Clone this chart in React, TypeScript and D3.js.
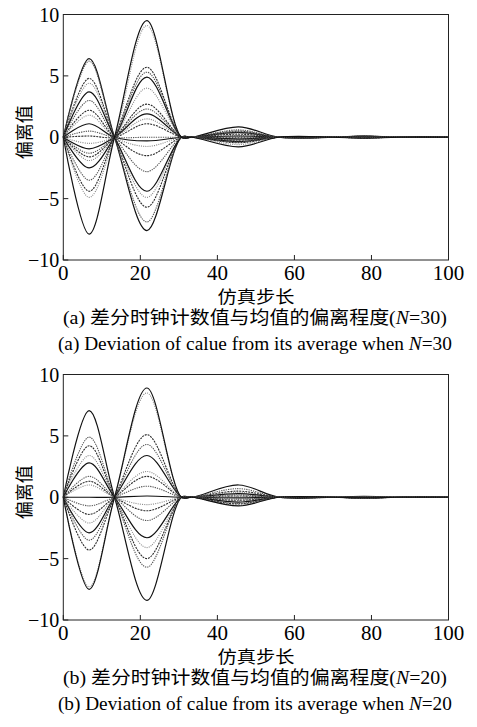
import * as d3 from "d3";

// simulation step positions of the zero crossings / lobe peaks
const steps = [0, 6.7, 13.3, 21.7, 30.7, 33.5, 45.5, 56, 70, 78, 87, 100];
const xTicks = [0, 20, 40, 60, 80, 100];
const yTicks = [-10, -5, 0, 5, 10];

// (a) N=30 : peak deviation of each curve in each lobe
const lobe1N30 = [6.4, 6.2, 4.8, 4.4, 3.7, 3.0, 2.2, 1.8, 1.1, 0.5, 0.1, -0.5, -0.95, -1.3, -1.6, -1.9, -2.5, -3.5, -4.4, -4.9, -7.9];
const lobe2N30 = [-7.6, -6.9, -5.7, -4.9, -4.4, -2.8, -1.5, -0.75, -0.3, 0, 1.1, 1.5, 1.9, 2.3, 2.7, 4.0, 4.9, 5.3, 5.7, 9.1, 9.5];
const lobe3N30 = [0.85, 0.6, 0.5, 0.45, 0.4, 0.35, 0.25, 0.15, 0.1, 0.05, -0.05, -0.1, -0.15, -0.2, -0.25, -0.3, -0.35, -0.4, -0.45, -0.6, -0.78];
const lobe4N30 = [0.12, 0.1, 0.08, 0.07, 0.06, 0.05, 0.04, 0.03, 0.02, 0.01, 0, 0.01, 0.02, 0, -0.01, -0.02, -0.03, -0.04, -0.05, -0.06, -0.08];

// (b) N=20
const lobe1N20 = [7.05, 4.9, 4.2, 3.4, 2.8, 1.7, 1.3, 1.0, 0, -0.7, -1.4, -2.1, -2.9, -3.5, -4.3, -7.3, -7.5];
const lobe2N20 = [-8.4, -5.7, -5.0, -4.1, -3.3, -1.9, -1.1, -0.6, 0.1, 0.9, 1.7, 2.1, 3.4, 4.3, 5.1, 8.5, 8.9];
const lobe3N20 = [1.0, 0.7, 0.5, 0.4, 0.3, 0.2, 0.1, 0.05, -0.05, -0.15, -0.25, -0.3, -0.4, -0.5, -0.55, -0.65, -0.7];
const lobe4N20 = [0.08, 0.06, 0.04, 0.03, 0.02, 0.01, 0, -0.01, -0.02, -0.03, -0.04, -0.05, -0.06, -0.07, -0.06, -0.08, -0.05];

const styles = [
  { stroke: "#111", width: 1.2, dash: "none" },
  { stroke: "#555", width: 1.1, dash: "1.3 1" },
  { stroke: "#2a2a2a", width: 1.1, dash: "2 1" },
  { stroke: "#888", width: 1.1, dash: "1 1.2" },
];

const serif = "'Liberation Serif', 'Times New Roman', 'Noto Sans CJK SC', serif";
const cjk = "'Liberation Serif', 'Noto Sans CJK SC', serif";

type PanelProps = {
  top: number;
  l1: number[];
  l2: number[];
  l3: number[];
  l4: number[];
  tag: string;
  n: string;
};

function Panel({ top, l1, l2, l3, l4, tag, n }: PanelProps) {
  const left = 63.3;
  const right = 448.5;
  const h = 245.5;
  const x = d3.scaleLinear().domain([0, 100]).range([left, right]);
  const y = d3.scaleLinear().domain([-10, 10]).range([top + h, top]);
  const line = d3
    .line<[number, number]>()
    .x((d) => x(d[0]))
    .y((d) => y(d[1]))
    .curve(d3.curveCatmullRom);

  const series = l1.map((_, i) =>
    [0, l1[i], 0, l2[i], 0, 0, l3[i], 0, 0, l4[i], 0, 0].map(
      (v, k) => [steps[k], v] as [number, number]
    )
  );

  const fmt = (v: number) => (v < 0 ? "\u2212" + Math.abs(v) : String(v));
  const midX = (left + right) / 2;

  return (
    <g>
      {series.map((s, i) => {
        const st = styles[i % styles.length];
        return (
          <path
            key={i}
            d={line(s) || ""}
            fill="none"
            stroke={st.stroke}
            strokeWidth={st.width}
            strokeDasharray={st.dash}
          />
        );
      })}
      <rect x={left} y={top} width={right - left} height={h} fill="none" stroke="#222" strokeWidth={1} />
      {xTicks.map((t) => (
        <g key={"x" + t}>
          <line x1={x(t)} x2={x(t)} y1={top + h} y2={top + h - 5} stroke="#222" />
          <text x={x(t)} y={top + h + 20} textAnchor="middle" fontFamily={serif} fontSize={21}>
            {fmt(t)}
          </text>
        </g>
      ))}
      {yTicks.map((t) => (
        <g key={"y" + t}>
          <line x1={left} x2={left + 5} y1={y(t)} y2={y(t)} stroke="#222" />
          <text x={left - 4} y={y(t) + 7} textAnchor="end" fontFamily={serif} fontSize={20}>
            {fmt(t)}
          </text>
        </g>
      ))}
      <text
        transform={`translate(25,${y(0) - 5}) rotate(-90)`}
        textAnchor="middle"
        dominantBaseline="central"
        fontFamily={cjk}
        fontSize={18}
      >
        偏离值
      </text>
      <text
        x={midX}
        y={top + h + 43}
        textAnchor="middle"
        fontFamily={cjk}
        fontSize={17}
        textLength={77}
        lengthAdjust="spacingAndGlyphs"
      >
        仿真步长
      </text>
      <text
        x={midX - 1}
        y={top + h + 64}
        textAnchor="middle"
        fontFamily={cjk}
        fontSize={18.5}
        textLength={384}
        lengthAdjust="spacingAndGlyphs"
      >
        ({tag}) 差分时钟计数值与均值的偏离程度(<tspan fontStyle="italic">N</tspan>={n})
      </text>
      <text
        x={midX - 1}
        y={top + h + 90}
        textAnchor="middle"
        fontFamily={serif}
        fontSize={19}
        textLength={394}
        lengthAdjust="spacingAndGlyphs"
      >
        ({tag}) Deviation of calue from its average when <tspan fontStyle="italic">N</tspan>={n}
      </text>
    </g>
  );
}

export default function App() {
  return (
    <svg
      width={477}
      height={727}
      style={{ position: "absolute", left: 0, top: 0, background: "#fff" }}
    >
      <Panel top={14.5} l1={lobe1N30} l2={lobe2N30} l3={lobe3N30} l4={lobe4N30} tag="a" n="30" />
      <Panel top={374.5} l1={lobe1N20} l2={lobe2N20} l3={lobe3N20} l4={lobe4N20} tag="b" n="20" />
    </svg>
  );
}
